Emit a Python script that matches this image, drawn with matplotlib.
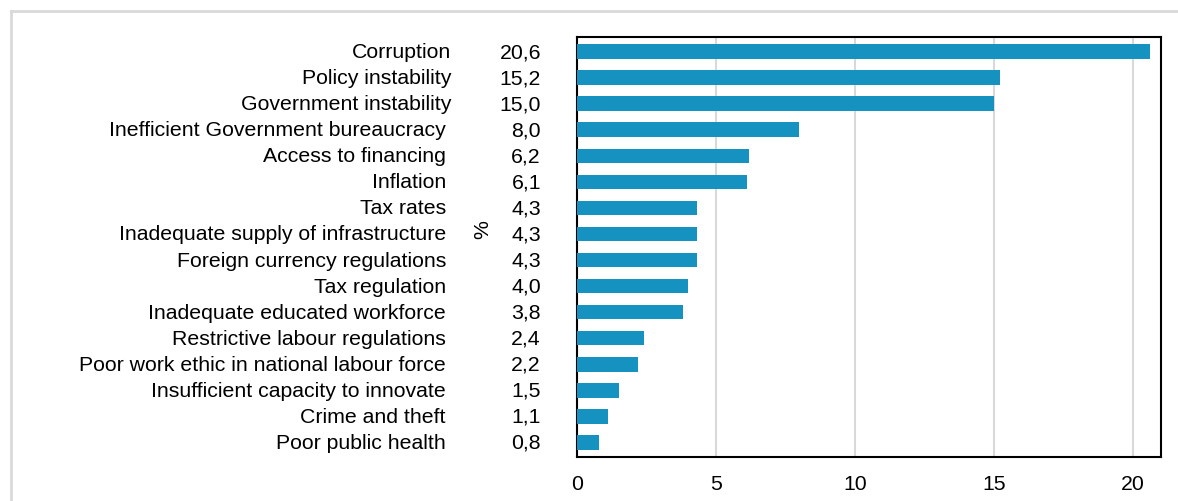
import matplotlib
matplotlib.use("Agg")
import matplotlib.pyplot as plt
from matplotlib.lines import Line2D
import matplotlib.transforms as mtransforms

plt.rcParams['font.family'] = ['Liberation Sans', 'DejaVu Sans']

factors = [
    "Corruption",
    "Policy instability",
    "Government instability",
    "Inefficient Government bureaucracy",
    "Access to financing",
    "Inflation",
    "Tax rates",
    "Inadequate supply of infrastructure",
    "Foreign currency regulations",
    "Tax regulation",
    "Inadequate educated workforce",
    "Restrictive labour regulations",
    "Poor work ethic in national labour force",
    "Insufficient capacity to innovate",
    "Crime and theft",
    "Poor public health",
]
shares = [20.6, 15.2, 15.0, 8.0, 6.2, 6.1, 4.3, 4.3, 4.3, 4.0, 3.8, 2.4, 2.2, 1.5, 1.1, 0.8]
xticks = [0, 5, 10, 15, 20]

FS = 15.3
W, H = 1178, 502
fig = plt.figure(figsize=(W / 100, H / 100), dpi=100)
ax = fig.add_axes([577 / W, 1 - 458 / H, (1161 - 577) / W, (458 - 38) / H])

pos = list(range(len(factors)))
ax.barh(pos, shares, height=0.57, color="#1592bf", zorder=3)
ax.set_ylim(len(factors) - 0.43, -0.57)
ax.set_xlim(0, 21)

ax.set_xticks(xticks)
ax.set_xticklabels([str(t) for t in xticks], fontsize=FS)
ax.tick_params(axis='x', length=0, pad=12)
ax.set_yticks([])
ax.grid(axis='x', color="#d9d9d9", lw=1.5, zorder=0)
for s in ax.spines.values():
    s.set_linewidth(1.5)
    s.set_color("black")

# category names and value column to the left of the axes
trans = mtransforms.blended_transform_factory(fig.transFigure, ax.transData)
for i, (name, v) in enumerate(zip(factors, shares)):
    right = 451 if i < 3 else 446
    ax.text(right / W, i, name, transform=trans, ha='right', va='center', fontsize=FS)
    ax.text(541 / W, i, f"{v:.1f}".replace('.', ','), transform=trans,
            ha='right', va='center', fontsize=FS)

fig.text(483 / W, 1 - 230 / H, "%", rotation=90, ha='center', va='center', fontsize=FS)

# light frame along the top and left edges
fig.add_artist(Line2D([11 / W, 1], [1 - 12 / H, 1 - 12 / H], transform=fig.transFigure,
                      color="#d9d9d9", lw=2))
fig.add_artist(Line2D([11 / W, 11 / W], [0, 1 - 12 / H], transform=fig.transFigure,
                      color="#d9d9d9", lw=2))

fig.savefig("out.png", dpi=100)
